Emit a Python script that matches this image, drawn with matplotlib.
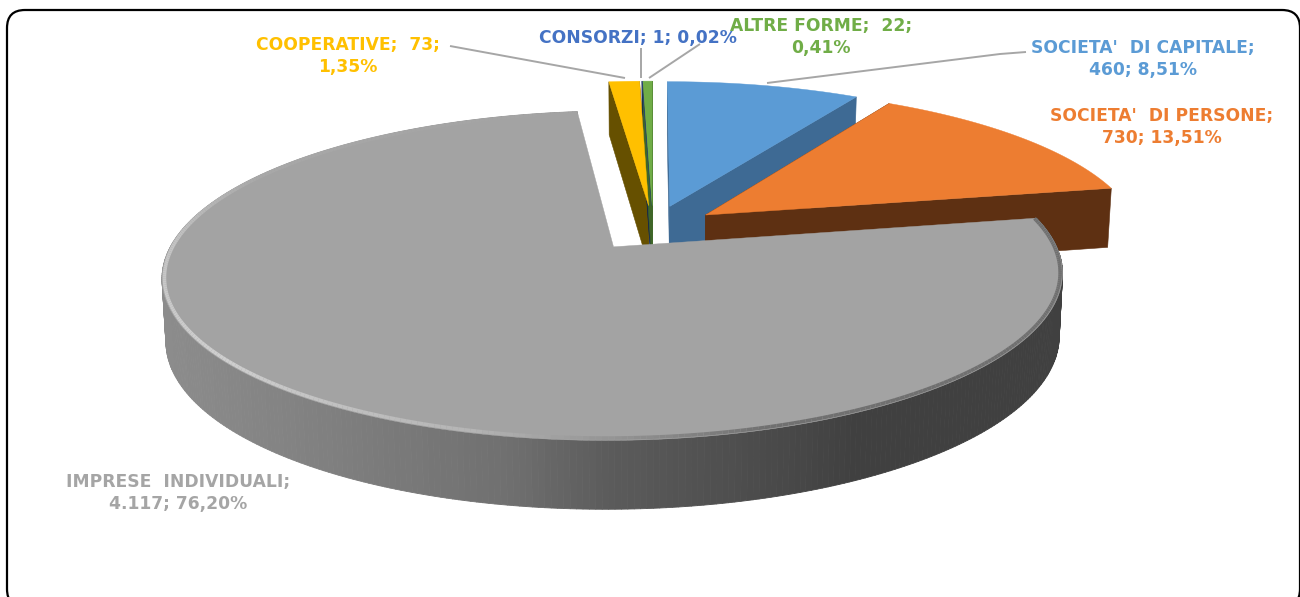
import numpy as np
import matplotlib
matplotlib.use('Agg')
import matplotlib.pyplot as plt
from matplotlib.patches import Polygon, FancyBboxPatch
from matplotlib.collections import PolyCollection, LineCollection
from matplotlib.colors import LinearSegmentedColormap

categories = ["SOCIETA' DI CAPITALE", "SOCIETA' DI PERSONE", "IMPRESE INDIVIDUALI",
              "COOPERATIVE", "CONSORZI", "ALTRE FORME"]
values = [460, 730, 4117, 73, 1, 22]
top_colors = ["#5b9bd5", "#ed7d31", "#a3a3a3", "#ffc000", "#264478", "#70ad47"]
wall_colors = ["#3e6a94", "#5e3012", "#707070", "#665000", "#16294a", "#3f6628"]
label_texts = ["SOCIETA'  DI CAPITALE;\n460; 8,51%", "SOCIETA'  DI PERSONE;\n730; 13,51%",
               "IMPRESE  INDIVIDUALI;\n4.117; 76,20%", "COOPERATIVE;  73;\n1,35%",
               "CONSORZI; 1; 0,02%", "ALTRE FORME;  22;\n0,41%"]
label_pos = [(1143, 59), (1162, 127), (178, 493), (348, 56), (638, 38), (821, 37)]
label_colors = ["#5b9bd5", "#ed7d31", "#a5a5a5", "#ffc000", "#4472c4", "#70ad47"]

# leader lines, in picture pixels
leaders = [[(450, 46), (625, 78)], [(641, 48), (641, 78)], [(700, 44), (649, 78)],
           [(767, 83), (1000, 54), (1026, 52)]]

CX, CY = 653, 228
RX, RY = 434, 153
PERSP = 0.172
EXPLODE = 0.15
DEPTH = 61

plt.rcParams['font.family'] = ['DejaVu Sans']
fig = plt.figure(figsize=(13, 5.97), dpi=100)
ax = fig.add_axes([0, 0, 1, 1])
ax.set_xlim(0, 1300); ax.set_ylim(597, 0); ax.axis('off')

frame = FancyBboxPatch((7, 10), 1293, 597, boxstyle="round,pad=0,rounding_size=18",
                       fc="white", ec="black", lw=1.6, zorder=0)
ax.add_patch(frame)

def project(u, v, low=False):
    s = 1 / (1 + PERSP * v)
    x = CX + RX * u * s
    y = CY - RY * v * s
    if low:
        x = CX + (x - CX) * 0.992
        y = y + DEPTH * (1 - 0.115 * v)
    return np.column_stack([x, y])

def wedge_xy(a0, a1, n=200):
    # angles clockwise from 12 o'clock, degrees
    mid = np.radians((a0 + a1) / 2)
    ox, oy = EXPLODE * np.sin(mid), EXPLODE * np.cos(mid)
    t = np.radians(np.linspace(a0, a1, n))
    return ox, oy, ox + np.sin(t), oy + np.cos(t)

def top_poly(a0, a1):
    ox, oy, u, v = wedge_xy(a0, a1)
    return project(np.r_[ox, u], np.r_[oy, v])

def radial_wall(a0, a1, ang):
    ox, oy, _, _ = wedge_xy(a0, a1)
    t = np.radians(ang)
    u = np.array([ox, ox + np.sin(t)])
    v = np.array([oy, oy + np.cos(t)])
    return np.vstack([project(u, v), project(u, v, low=True)[::-1]])

fractions = np.array(values) / sum(values)
edges = np.r_[0, np.cumsum(fractions)] * 360

# far slices first, the big grey one goes over them
for i in [0, 1, 5, 4, 3]:
    a0, a1 = edges[i], edges[i + 1]
    for ang in (a0, a1):
        ax.add_patch(Polygon(radial_wall(a0, a1, ang), fc=wall_colors[i], ec=wall_colors[i], lw=0.4, zorder=2 + i * 0.01))
    ax.add_patch(Polygon(top_poly(a0, a1), fc=top_colors[i], ec=top_colors[i], lw=0.3, zorder=2.1 + i * 0.01))

# grey slice: shaded outer wall
a0, a1 = edges[2], edges[3]
ox, oy, u, v = wedge_xy(a0, a1, 400)
up = project(u, v); lo = project(u, v, low=True)
quads = [np.vstack([up[k], up[k + 1], lo[k + 1], lo[k]]) for k in range(len(up) - 1)]
wall_cmap = LinearSegmentedColormap.from_list(
    "wall", [(0, "#8c8c8c"), (0.15, "#828282"), (0.38, "#707070"), (0.49, "#5c5c5c"), (0.71, "#474747"), (0.77, "#404040"), (1, "#404040")])
shade = np.clip((np.array([q[:, 0].mean() for q in quads]) - 165) / 897, 0, 1)
wall_cols = wall_cmap(shade)
ax.add_collection(PolyCollection(quads, facecolors=wall_cols, edgecolors=wall_cols, linewidths=0.6, zorder=3))
ax.add_patch(Polygon(top_poly(a0, a1), fc=top_colors[2], ec=top_colors[2], lw=0.3, zorder=3.1))

# bevel along the rim of the grey slice
t = np.radians(np.linspace(a0, a1, 400))
rim = project(ox + 0.995 * np.sin(t), oy + 0.99 * np.cos(t))
segs = np.stack([rim[:-1], rim[1:]], axis=1)
bevel_cmap = LinearSegmentedColormap.from_list(
    "bevel", [(0, "#707070"), (0.3, "#707070"), (0.42, "#b5b5b5"), (0.55, "#cfcfcf"),
              (0.7, "#c4c4c4"), (0.8, "#a8a8a8"), (1, "#a3a3a3")])
bevel_t = np.clip((np.degrees(t[:-1]) - a0) / (a1 - a0), 0, 1)
ax.add_collection(LineCollection(segs, colors=bevel_cmap(bevel_t), linewidths=2.6, zorder=3.2))

for pts in leaders:
    xs, ys = zip(*pts)
    ax.plot(xs, ys, color="#a6a6a6", lw=1.4, zorder=4, solid_capstyle='butt')

for txt, pos, col in zip(label_texts, label_pos, label_colors):
    ax.text(pos[0], pos[1], txt, color=col, fontsize=12.3, fontweight='bold',
            ha='center', va='center', linespacing=1.35, zorder=5)

fig.savefig("out.png", dpi=100)
